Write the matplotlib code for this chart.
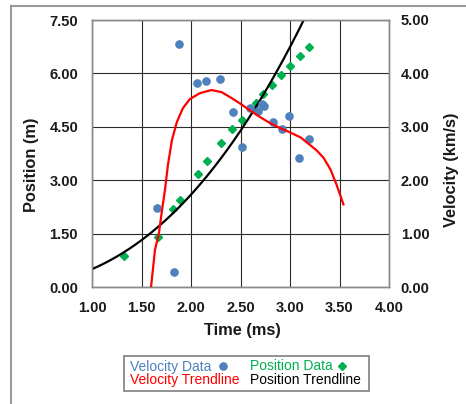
import matplotlib
matplotlib.use("Agg")
import matplotlib.pyplot as plt
import numpy as np
from matplotlib.lines import Line2D
from matplotlib.patches import Rectangle

plt.rcParams['font.family'] = ['Liberation Sans', 'DejaVu Sans']

# ---- data ----
vel_time = [1.660, 1.825, 1.879, 2.062, 2.155, 2.296, 2.420, 2.515, 2.592,
            2.672, 2.722, 2.740, 2.829, 2.920, 2.988, 3.095, 3.195]
vel_data = [1.49, 0.28, 4.56, 3.83, 3.86, 3.89, 3.28, 2.63, 3.36,
            3.30, 3.43, 3.40, 3.09, 2.97, 3.21, 2.42, 2.77]

pos_time = [1.327, 1.670, 1.823, 1.889, 2.067, 2.163, 2.300, 2.415, 2.515,
            2.655, 2.730, 2.822, 2.910, 3.000, 3.098, 3.195]
pos_data = [0.89, 1.41, 2.19, 2.46, 3.18, 3.53, 4.05, 4.44, 4.70,
            5.18, 5.41, 5.67, 5.96, 6.22, 6.49, 6.74]

# velocity trendline
vel_trend_time = [1.596, 1.636, 1.676, 1.707, 1.737, 1.767, 1.807, 1.857, 1.918,
                  1.988, 2.088, 2.206, 2.310, 2.410, 2.510, 2.610, 2.710, 2.810,
                  2.910, 3.010, 3.110, 3.190, 3.270, 3.340, 3.410, 3.470, 3.540]
vel_trend = [0.00, 0.70, 1.01, 1.44, 1.82, 2.29, 2.75, 3.09, 3.35,
             3.52, 3.63, 3.69, 3.65, 3.54, 3.42, 3.29, 3.17, 3.06,
             2.97, 2.89, 2.80, 2.68, 2.56, 2.42, 2.20, 1.92, 1.55]

# position trendline (power law  y = a * t^b)
pos_trend_a = 0.51
pos_trend_b = 2.35

x_ticks = [1.00, 1.50, 2.00, 2.50, 3.00, 3.50, 4.00]
pos_ticks = [0.00, 1.50, 3.00, 4.50, 6.00, 7.50]
vel_ticks = [0.00, 1.00, 2.00, 3.00, 4.00, 5.00]

BLUE = '#4F81BD'
GREEN = '#00B050'
RED = '#FF0000'

W, H = 466, 404
fig = plt.figure(figsize=(W / 100, H / 100), dpi=100)

L, R, T, B = 92, 389, 20, 287.3
ax = fig.add_axes([L / W, 1 - B / H, (R - L) / W, (B - T) / H])
ax2 = ax.twinx()

ax.set_xlim(x_ticks[0], x_ticks[-1])
ax.set_ylim(pos_ticks[0], pos_ticks[-1])
ax2.set_ylim(vel_ticks[0], vel_ticks[-1])
ax.set_xticks(x_ticks)
ax.set_yticks(pos_ticks)
ax2.set_yticks(vel_ticks)
ax.set_xticklabels([f"{v:.2f}" for v in x_ticks])
ax.set_yticklabels([f"{v:.2f}" for v in pos_ticks])
ax2.set_yticklabels([f"{v:.2f}" for v in vel_ticks])

ax.grid(True, color='#2b2b2b', lw=0.8)
ax.set_axisbelow(True)

tick_kw = dict(length=0, labelsize=10.5, labelcolor='#1a1a1a')
ax.tick_params(axis='x', pad=10, **tick_kw)
ax.tick_params(axis='y', pad=10, **tick_kw)
ax2.tick_params(axis='y', pad=8.5, **tick_kw)
for a in (ax, ax2):
    for lab in a.get_xticklabels() + a.get_yticklabels():
        lab.set_fontweight('bold')
    for sp in a.spines.values():
        sp.set_color('#8a8a8a')
        sp.set_linewidth(1.0)

# position series
ax.plot(pos_time, pos_data, linestyle='none', marker='D', ms=3.6,
        color=GREEN, zorder=3)
t = np.linspace(x_ticks[0], 3.3, 300)
ax.plot(t, pos_trend_a * t ** pos_trend_b, color='black', lw=1.6, zorder=4)

# velocity series
ax2.plot(vel_time, vel_data, linestyle='none', marker='o', ms=5.2,
         color=BLUE, zorder=3)
ax2.plot(vel_trend_time, vel_trend, color=RED, lw=1.6, zorder=4,
         solid_joinstyle='round')

# axis titles
fig.text(242.8 / W, 1 - 330.7 / H, 'Time (ms)', ha='center', va='center',
         fontsize=11.8, fontweight='bold', color='#1a1a1a')
fig.text(31.7 / W, 1 - 165 / H, 'Position (m)', ha='center', va='center',
         rotation=90, fontsize=11.8, fontweight='bold', color='#1a1a1a')
fig.text(451.7 / W, 1 - 170 / H, 'Velocity (km/s)', ha='center', va='center',
         rotation=90, fontsize=11.8, fontweight='bold', color='#1a1a1a')

# outer chart frame (left and top edges visible)
fig.add_artist(Line2D([10.5 / W, 10.5 / W], [0, 1 - 6 / H],
                      transform=fig.transFigure, color='#9a9a9a', lw=1.5))
fig.add_artist(Line2D([10.5 / W, 1], [1 - 6 / H, 1 - 6 / H],
                      transform=fig.transFigure, color='#9a9a9a', lw=1.5))

# custom legend box
lx0, ly0, lx1, ly1 = 123.5, 356, 368.5, 390.5
fig.add_artist(Rectangle((lx0 / W, 1 - ly1 / H), (lx1 - lx0) / W, (ly1 - ly0) / H,
                         transform=fig.transFigure, fill=False,
                         edgecolor='#7f7f7f', lw=1.2))
row1, row2 = 366.5, 380
fig.text(130 / W, 1 - row1 / H, 'Velocity Data', color=BLUE, fontsize=10,
         ha='left', va='center')
fig.text(250 / W, 1 - row1 / H, 'Position Data', color=GREEN, fontsize=10,
         ha='left', va='center')
fig.text(130 / W, 1 - row2 / H, 'Velocity Trendline', color=RED, fontsize=10,
         ha='left', va='center')
fig.text(250 / W, 1 - row2 / H, 'Position Trendline', color='black', fontsize=10,
         ha='left', va='center')
fig.add_artist(Line2D([222.7 / W], [1 - 365.5 / H], transform=fig.transFigure,
                      marker='o', ms=5.2, color=BLUE, linestyle='none'))
fig.add_artist(Line2D([341.7 / W], [1 - 366 / H], transform=fig.transFigure,
                      marker='D', ms=3.6, color=GREEN, linestyle='none'))

fig.savefig('out.png', dpi=100)
